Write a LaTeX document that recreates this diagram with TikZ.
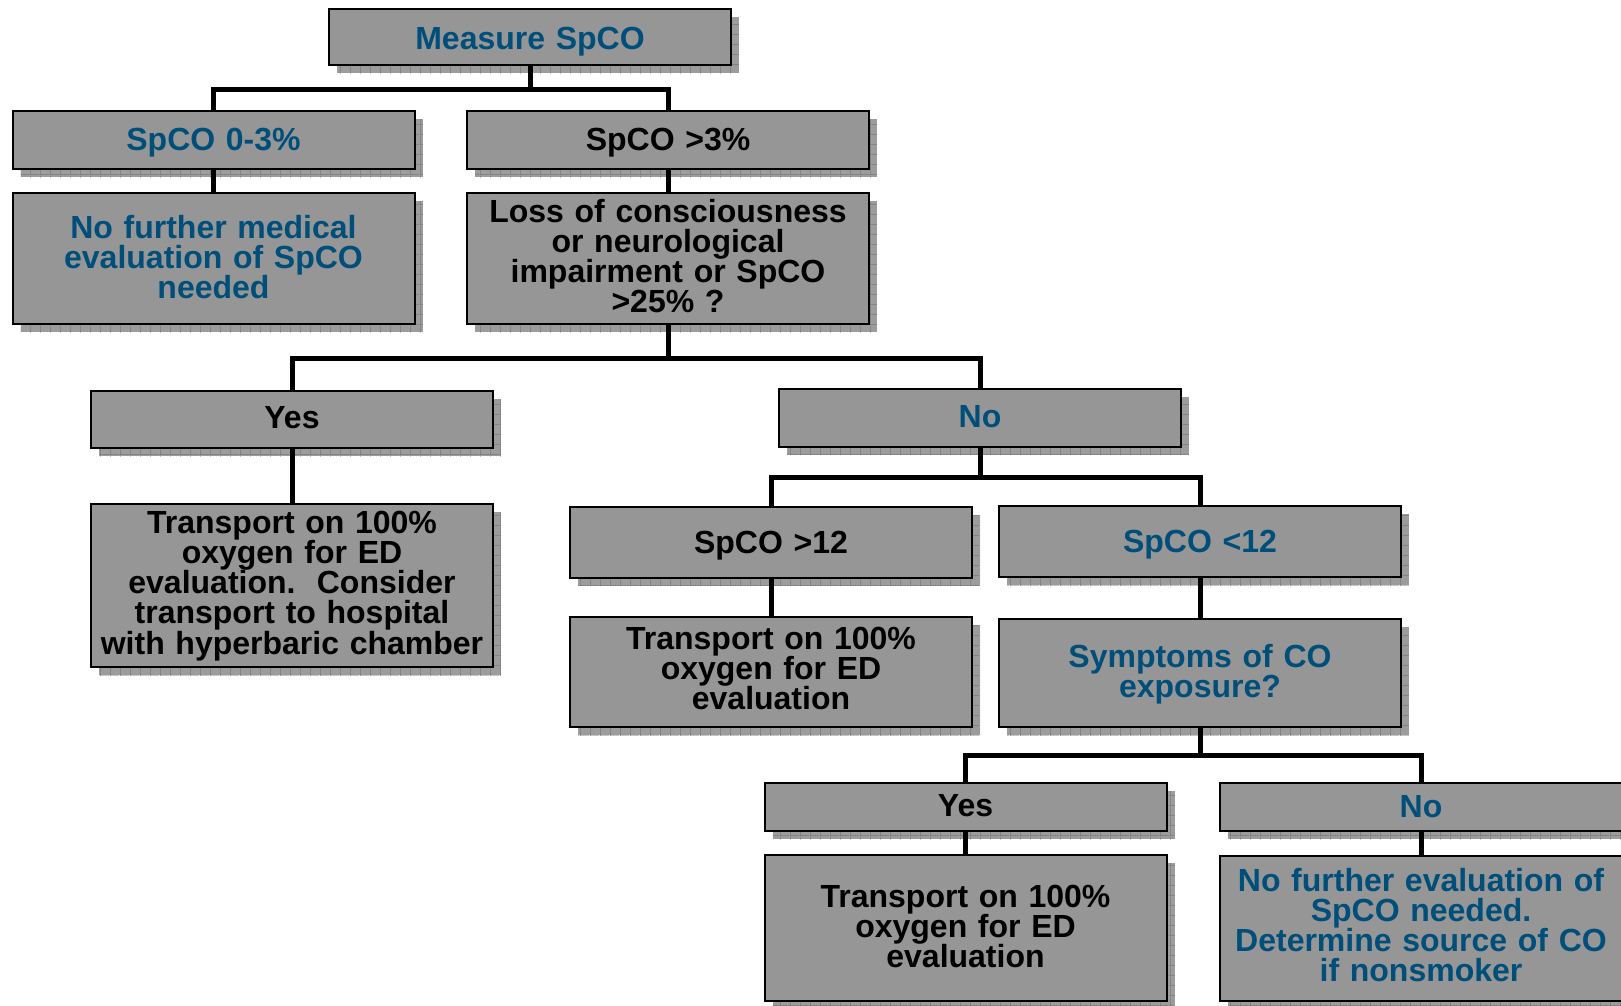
\documentclass[tikz,border=0pt]{standalone}
\usepackage{fontspec}
\setmainfont{Liberation Sans}
\usetikzlibrary{patterns}
\definecolor{boxgray}{HTML}{969696}
\definecolor{shgray}{HTML}{9C9C9C}
\definecolor{shline}{HTML}{5A5A5A}
\definecolor{tblue}{HTML}{004F7A}
\pgfdeclarepatternformonly{shgrid}{\pgfpointorigin}{\pgfpoint{10pt}{10pt}}{\pgfpoint{10pt}{10pt}}{%
  \pgfsetlinewidth{0.9pt}%
  \pgfpathmoveto{\pgfpointorigin}\pgfpathlineto{\pgfpoint{10pt}{0pt}}%
  \pgfpathmoveto{\pgfpointorigin}\pgfpathlineto{\pgfpoint{0pt}{10pt}}%
  \pgfusepath{stroke}}
\tikzset{
  flowbox/.style={draw=black, line width=2pt, fill=boxgray, rectangle, inner sep=0pt,
    minimum width=402pt,
    preaction={fill=shgray, draw=none, transform canvas={xshift=8pt, yshift=-8pt}},
    preaction={pattern=shgrid, pattern color=shline, draw=none, transform canvas={xshift=8pt, yshift=-8pt}}},
  txt/.style={anchor=base, text width=400pt, align=center, inner sep=0pt,
    font=\fontsize{32}{30.3}\selectfont\bfseries},
  btxt/.style={txt, text=tblue},
  ktxt/.style={txt, text=black},
  conn/.style={draw=black, line width=5pt}
}
\begin{document}
\begin{tikzpicture}[x=1pt, y=-1pt]
\useasboundingbox (0,0) rectangle (1621,1005);
\clip (0,0) rectangle (1621,1005);
% boxes
\node[flowbox, minimum height=56pt] (m) at (530,37) {};
\node[flowbox, minimum height=58pt] (a) at (213.5,140) {};
\node[flowbox, minimum height=131pt] (a2) at (213.5,258.5) {};
\node[flowbox, minimum height=58pt] (b) at (668,140) {};
\node[flowbox, minimum height=131pt] (b2) at (668,258.5) {};
\node[flowbox, minimum height=57pt] (y1) at (292,419.5) {};
\node[flowbox, minimum height=163pt] (y1t) at (292,585.5) {};
\node[flowbox, minimum height=58pt] (n1) at (980,418) {};
\node[flowbox, minimum height=71pt] (c) at (771,542.5) {};
\node[flowbox, minimum height=110pt] (c2) at (771,672) {};
\node[flowbox, minimum height=71pt] (d) at (1200,541.5) {};
\node[flowbox, minimum height=108pt] (d2) at (1200,673) {};
\node[flowbox, minimum height=48pt] (e) at (965.5,807) {};
\node[flowbox, minimum height=146pt] (e2) at (965.5,928) {};
\node[flowbox, minimum height=48pt] (f) at (1421,807) {};
\node[flowbox, minimum height=145pt] (f2) at (1421,928.5) {};
% connectors
\coordinate (j1) at (530,89);
\draw[conn] (m.south) -- (j1);
\draw[conn] (j1) -| (a.north);
\draw[conn] (j1) -| (b.north);
\draw[conn] (a.south) -- (a2.north);
\draw[conn] (b.south) -- (b2.north);
\coordinate (j2) at (668,358);
\draw[conn] (b2.south) -- (j2);
\draw[conn] (j2) -| (y1.north);
\draw[conn] (j2) -| (n1.north);
\draw[conn] (y1.south) -- (y1t.north);
\coordinate (j3) at (980,477);
\draw[conn] (n1.south) -- (j3);
\draw[conn] (j3) -| (c.north);
\draw[conn] (j3) -| (d.north);
\draw[conn] (c.south) -- (c2.north);
\draw[conn] (d.south) -- (d2.north);
\coordinate (j4) at (1200,755);
\draw[conn] (d2.south) -- (j4);
\draw[conn] (j4) -| (e.north);
\draw[conn] (j4) -| (f.north);
\draw[conn] (e.south) -- (e2.north);
\draw[conn] (f.south) -- (f2.north);
% texts
\node[btxt] (mT) at (530,49) {Measure SpCO};
\node[btxt] (aT) at (213.5,150) {SpCO 0-3\%};
\node[btxt] (a2T) at (213.5,238) {No further medical\\evaluation of SpCO\\needed};
\node[ktxt] (bT) at (668,150) {SpCO >3\%};
\node[ktxt] (b2T) at (668,222) {Loss of consciousness\\or neurological\\impairment or SpCO\\>25\% ?};
\node[ktxt] (y1T) at (292,428) {Yes};
\node[ktxt, text width=420pt] (y1tT) at (292,533) {Transport on 100\%\\oxygen for ED\\evaluation.\ \ Consider\\transport to hospital\\with hyperbaric chamber};
\node[btxt] (n1T) at (980,427) {No};
\node[ktxt] (cT) at (771,553) {SpCO >12};
\node[ktxt] (c2T) at (771,649) {Transport on 100\%\\oxygen for ED\\evaluation};
\node[btxt] (dT) at (1200,552) {SpCO <12};
\node[btxt] (d2T) at (1200,667) {Symptoms of CO\\exposure?};
\node[ktxt] (eT) at (965.5,816) {Yes};
\node[ktxt] (e2T) at (965.5,907) {Transport on 100\%\\oxygen for ED\\evaluation};
\node[btxt] (fT) at (1421,817) {No};
\node[btxt] (f2T) at (1421,891) {No further evaluation of\\SpCO needed.\\Determine source of CO\\if nonsmoker};
\end{tikzpicture}
\end{document}
